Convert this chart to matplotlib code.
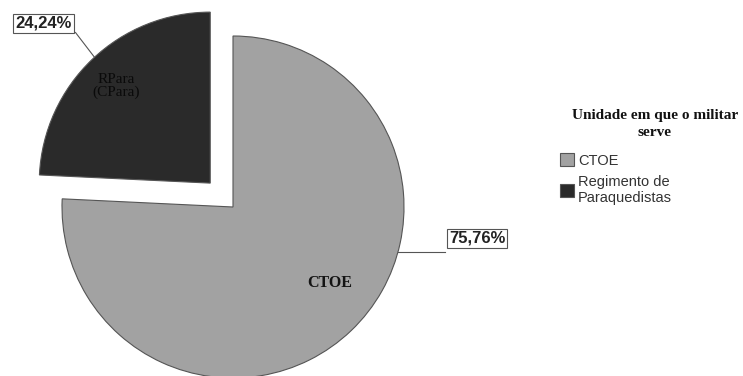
import matplotlib.pyplot as plt
import numpy as np

labels = ["CTOE", "RPara\n(CPara)"]
legend_labels = ["CTOE", "Regimento de\nParaquedistas"]
values = [75.76, 24.24]
pct_labels = ["75,76%", "24,24%"]
legend_title = "Unidade em que o militar\nserve"

colors = ["#a2a2a2", "#2a2a2a"]

W, H = 743, 376
fig = plt.figure(figsize=(W / 100, H / 100), dpi=100)
ax = fig.add_axes([0, 0, 1, 1])

cx, cy, R = 233, 169, 171
wedges, _ = ax.pie(values, colors=colors, startangle=90, counterclock=False,
                   explode=[0, 33], radius=R, center=(cx, cy),
                   wedgeprops=dict(edgecolor="#555555", linewidth=0.8))
# pie resets the limits, so set them afterwards
ax.set_xlim(0, W)
ax.set_ylim(0, H)
ax.set_aspect("equal")
ax.axis("off")

# inner labels
inner = [(-38, 0.72), (134, 0.79)]
inner_style = [dict(fontweight="bold", fontsize=11.5, color="#141414"),
               dict(fontweight="normal", fontsize=11, color="#0a0a0a")]
for w, lab, (ang, frac), st in zip(wedges, labels, inner, inner_style):
    x0, y0 = w.center
    a = np.deg2rad(ang)
    ax.text(x0 + frac * R * np.cos(a), y0 + frac * R * np.sin(a), lab,
            ha="center", va="center", family="Liberation Serif",
            linespacing=1.0, **st)

# percentage call-outs
box = dict(boxstyle="square,pad=0.12", fc="white", ec="#555555", lw=0.8)
edge_ang = [-15.3, 132.6]
text_pos = [(477, 138), (43.5, 352.5)]
for w, txt, ang, tp in zip(wedges, pct_labels, edge_ang, text_pos):
    x0, y0 = w.center
    a = np.deg2rad(ang)
    px, py = x0 + R * np.cos(a), y0 + R * np.sin(a)
    if txt == "75,76%":
        ax.plot([px, 445], [py, py], color="#555555", lw=0.8)
    else:
        ax.plot([px, tp[0] + 32], [py, tp[1] - 9], color="#555555", lw=0.8)
    ax.text(tp[0], tp[1], txt, ha="center", va="center", fontsize=12,
            fontweight="bold", family="Liberation Sans", color="#222222",
            bbox=box)

ax.text(655, H - 124, legend_title, ha="center", va="center",
        family="Liberation Serif", fontweight="bold", fontsize=11,
        linespacing=1.3, color="#111111")
leg = ax.legend(wedges, legend_labels, frameon=False,
                loc="upper left", bbox_to_anchor=(560 / W, 1 - 153 / H),
                prop=dict(family="Liberation Sans", size=10.5),
                handlelength=0.95, handleheight=1.0, handletextpad=0.3,
                labelspacing=0.5, borderaxespad=0, borderpad=0)
for t in leg.get_texts():
    t.set_color("#333333")
    t.set_linespacing(1.2)

fig.savefig("out.png", dpi=100)
